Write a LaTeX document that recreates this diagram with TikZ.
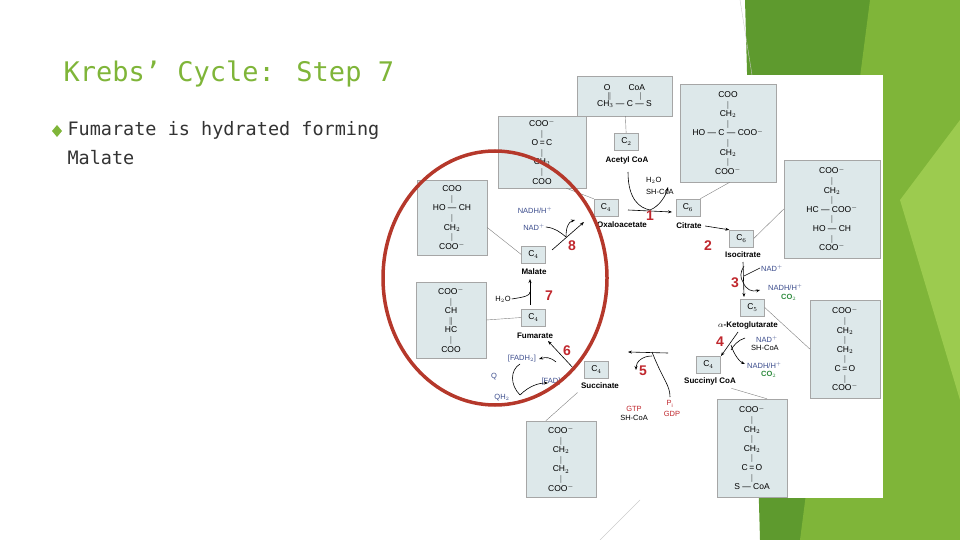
\documentclass[tikz,border=0pt]{standalone}
\usepackage{fontspec}
\setmainfont{Liberation Sans}
\newfontfamily\ttl{DejaVu Sans Mono}
\usetikzlibrary{arrows.meta}
\definecolor{gA}{HTML}{7FB539}
\definecolor{gB}{HTML}{5E9A2E}
\definecolor{gC}{HTML}{9CCB4F}
\definecolor{boxc}{HTML}{DDE8EA}
\definecolor{nadc}{HTML}{3B4C8C}
\definecolor{stp}{HTML}{C0272D}
\definecolor{co2c}{HTML}{2E8B3E}
\definecolor{circ}{HTML}{B5382B}
\tikzset{
 sbox/.style={draw=gray!70,fill=boxc,inner sep=3pt,align=center,font=\fontsize{8.5}{9.6}\selectfont,line width=0.4pt},
 cbox/.style={draw=gray!70,fill=boxc,minimum width=24pt,minimum height=17pt,inner sep=1pt,font=\fontsize{8.5}{9}\selectfont},
 lab/.style={font=\bfseries\fontsize{8}{9}\selectfont},
 cof/.style={font=\fontsize{7.5}{8}\selectfont,text=nadc,inner sep=1pt},
 num/.style={font=\bfseries\fontsize{14}{14}\selectfont,text=stp},
 lnk/.style={draw=gray,line width=0.4pt},
 rx/.style={-{Stealth[length=4pt]},line width=0.6pt}
}
\begin{document}
\begin{tikzpicture}[x=1pt,y=-1pt]
\useasboundingbox (0,0) rectangle (960,540);
% background decorations
\fill[gB] (745,0) -- (960,0) -- (960,540) -- (760,540) -- cycle;
\fill[gA] (870,0) -- (960,0) -- (960,540) -- (800,540) -- cycle;
\fill[gC] (900,200) -- (960,120) -- (960,400) -- cycle;
\fill[white] (575,75) rectangle (883,498);
\draw[gray!40] (740,0) -- (752,75);
\draw[gray!40] (600,540) -- (640,500);
% title
\node[anchor=west,text=gA,font=\ttl\fontsize{27}{30}\selectfont] (title) at (60,74) {Krebs’ Cycle: Step 7};
\fill[gA] (57,125) -- (62,131) -- (57,137) -- (52,131) -- cycle;
\node[anchor=north west,align=left,text=black!80,font=\ttl\fontsize{18.5}{29}\selectfont] (txt) at (64,118) {Fumarate is hydrated forming\\Malate};
% structure boxes
\node[sbox,minimum width=95pt,minimum height=40pt] (sAc) at (624.5,96) {O\hspace{18pt}CoA\\[-2pt]$\|$\hspace{28pt}$|$\\[-2pt]CH$_3$ — C — S};
\node[sbox,minimum width=96pt,minimum height=98pt] (sCi) at (728,133) {COO\\$|$\\CH$_2$\\$|$\\HO — C — COO$^-$\\$|$\\CH$_2$\\$|$\\COO$^-$};
\node[sbox,minimum width=88pt,minimum height=72pt] (sOx) at (542,152) {COO$^-$\\$|$\\O\,=\,C\hspace{4pt}\\$|$\\CH$_2$\\$|$\\COO};
\node[sbox,minimum width=96pt,minimum height=98pt] (sIs) at (832,209) {COO$^-$\\$|$\\CH$_2$\\$|$\\HC — COO$^-$\\$|$\\HO — CH\hspace{24pt}\\$|$\\COO$^-$};
\node[sbox,minimum width=70pt,minimum height=75pt] (sMa) at (452,217.5) {COO\\$|$\\HO — CH\\$|$\\CH$_2$\\$|$\\COO$^-$};
\node[sbox,minimum width=70pt,minimum height=76pt] (sFu) at (451,320) {COO$^-$\\$|$\\CH\\$\|$\\HC\\$|$\\COO};
\node[sbox,minimum width=70pt,minimum height=98pt] (sKg) at (845,349) {COO$^-$\\$|$\\CH$_2$\\$|$\\CH$_2$\\$|$\\C\,=\,O\\$|$\\COO$^-$};
\node[sbox,minimum width=70pt,minimum height=76pt] (sSu) at (561,459) {COO$^-$\\$|$\\CH$_2$\\$|$\\CH$_2$\\$|$\\COO$^-$};
\node[sbox,minimum width=70pt,minimum height=98pt] (sSc) at (752,448) {COO$^-$\\$|$\\CH$_2$\\$|$\\CH$_2$\\$|$\\C\,=\,O\\$|$\\S — CoA};
% small boxes
\node[cbox] (cAc) at (626.5,141.5) {C$_2$};
\node[lab] (lAc) at (627,160) {Acetyl CoA};
\node[cbox] (cOx) at (606,207.5) {C$_4$};
\node[lab] (lOx) at (622,225) {Oxaloacetate};
\node[cbox] (cCi) at (688,207.5) {C$_6$};
\node[lab] (lCi) at (689,226) {Citrate};
\node[cbox] (cIs) at (741.5,238.5) {C$_6$};
\node[lab] (lIs) at (743,255) {Isocitrate};
\node[cbox] (cMa) at (533.5,254.5) {C$_4$};
\node[lab] (lMa) at (534,272) {Malate};
\node[cbox] (cFu) at (533.5,317.5) {C$_4$};
\node[lab] (lFu) at (535,336) {Fumarate};
\node[cbox] (cSu) at (596.5,369.5) {C$_4$};
\node[lab] (lSu) at (600,386) {Succinate};
\node[cbox] (cKg) at (752.5,307.5) {C$_5$};
\node[lab] (lKg) at (748,325) {$\alpha$-Ketoglutarate};
\node[cbox] (cSc) at (708.5,364.5) {C$_4$};
\node[lab] (lSc) at (710,381) {Succinyl CoA};
% links
\draw[lnk] (sAc) -- (cAc);
\draw[lnk] (sCi.south west) ++(50,0) -- (cCi.north east);
\draw[lnk] (sOx.south east) ++(-20,0) -- (cOx.north west);
\draw[lnk] (cIs.east) -- (sIs.west);
\draw[lnk] (sMa.east) ++(0,10) -- (cMa.west);
\draw[lnk] (sFu.east) -- (cFu.west);
\draw[lnk] (cKg.east) -- (sKg.west);
\draw[lnk] (sSu.north west) ++(20,0) -- (lSu.south west);
\draw[lnk] (lSc.south east) ++(-8,0) -- ([xshift=15pt]sSc.north);
% cycle arrows
\coordinate (a1s) at (628,210); \coordinate (a1e) at (672,212);
\draw[rx] (a1s) -- (a1e);
\draw[line width=0.6pt] (628,172) .. controls (628,200) and (640,208) .. (650,210);
\draw[rx] (650,210) .. controls (660,206) and (666,195) .. (668,187);
\node[cof,text=black,anchor=west] (h2o1) at (645,180) {H$_2$O};
\node[cof,text=black,anchor=west] (sh1) at (645,192) {SH-CoA};
\draw[rx] (lCi.east) -- (cIs.north west);
\draw[rx] (743,262) -- (744,297);
\draw[line width=0.6pt] (744,266) .. controls (740,272) and (740,278) .. (743,282);
\draw[rx] (743,282) .. controls (746,290) and (752,292) .. (760,290);
\node[cof,anchor=west] (nad3) at (760,268) {NAD$^+$};
\draw[line width=0.6pt] (744,276) -- (760,268);
\node[cof,anchor=west] (nadh3) at (767,287) {NADH/H$^+$};
\node[cof,anchor=west,text=co2c,font=\bfseries\fontsize{7.5}{8}\selectfont] (co23) at (780,297) {CO$_2$};
\draw[rx] (738,332) -- (721,356);
\draw[line width=0.6pt] (745,338) .. controls (738,340) and (733,346) .. (731,350);
\node[cof,anchor=west] (nad4) at (755,339) {NAD$^+$};
\node[cof,anchor=west,text=black] (sh4) at (750,348) {SH-CoA};
\draw[rx] (731,345) .. controls (734,355) and (740,362) .. (745,364);
\node[cof,anchor=west] (nadh4) at (746,365) {NADH/H$^+$};
\node[cof,anchor=west,text=co2c,font=\bfseries\fontsize{7.5}{8}\selectfont] (co24) at (760,374) {CO$_2$};
\draw[rx] (668,353) -- (628,352);
\draw[line width=0.6pt] (670,397) .. controls (670,385) and (663,380) .. (652,352);
\draw[rx] (652,356) .. controls (642,356) and (636,362) .. (636,370);
\node[cof,text=stp] (gtp) at (634,409) {GTP};
\node[cof,text=black] (sh5) at (634,418) {SH-CoA};
\node[cof,text=stp] (pi) at (670,404) {P$_\mathrm{i}$};
\node[cof,text=stp] (gdp) at (672,414) {GDP};
\draw[rx] (575,370) -- (548,341);
\node[cof] (fadh) at (522,359) {[FADH$_2$]};
\node[cof] (fad) at (551,382) {[FAD]};
\draw[rx] (556,362) .. controls (550,357) and (546,357) .. (539,359);
\node[cof] (q) at (494,377) {Q};
\node[cof] (qh) at (502,398) {QH$_2$};
\draw[line width=0.6pt] (520,364) .. controls (510,370) and (510,385) .. (520,395);
\draw[rx] (520,395) .. controls (530,385) and (540,383) .. (548,383);
\draw[rx] (530,305) -- (530,279);
\node[cof,text=black] (h2o7) at (503,299) {H$_2$O};
\draw[line width=0.6pt] (h2o7.east) .. controls (524,297) and (530,296) .. (530,292);
\draw[rx] (552,250) -- (584,222);
\node[cof] (nadh8) at (535,210) {NADH/H$^+$};
\node[cof] (nad8) at (534,227) {NAD$^+$};
\draw[line width=0.6pt] (nad8.east) .. controls (555,228) and (560,232) .. (566,237);
\draw[rx] (566,237) .. controls (566,228) and (568,222) .. (575,220);
% step numbers
\node[num] (n1) at (650,216) {1};
\node[num] (n2) at (708,246) {2};
\node[num] (n3) at (735,283) {3};
\node[num] (n4) at (720,342) {4};
\node[num] (n5) at (643,371) {5};
\node[num] (n6) at (567,351) {6};
\node[num] (n7) at (549,296) {7};
\node[num] (n8) at (572,246) {8};
% red circle
\draw[circ,line width=3.5pt] (495,278) ellipse [x radius=112, y radius=127];
\end{tikzpicture}
\end{document}
